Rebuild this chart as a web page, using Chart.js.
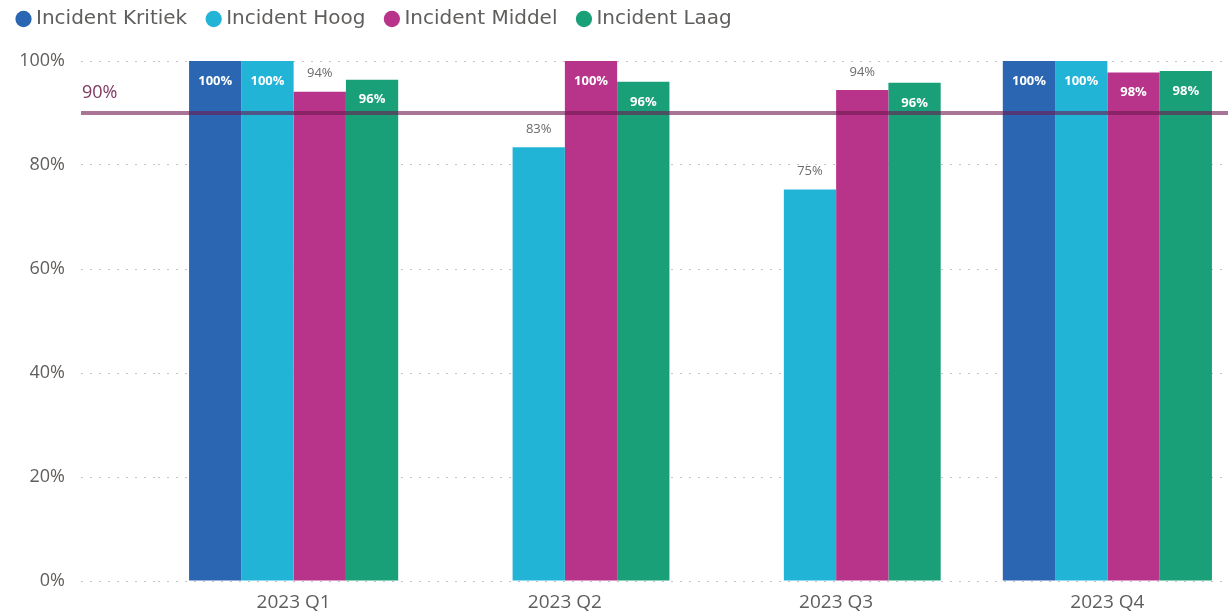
<!DOCTYPE html>
<html>
<head>
<meta charset="utf-8">
<script src="https://cdn.jsdelivr.net/npm/chart.js@4.4.0/dist/chart.umd.min.js"></script>
<style>
  html, body { margin: 0; padding: 0; background: #fff; overflow: hidden; }
</style>
</head>
<body>
<canvas id="chart" width="1244" height="615"></canvas>
<script>
// quarters on the x axis
const quarters = ['2023 Q1', '2023 Q2', '2023 Q3', '2023 Q4'];

// percentage scores per incident priority
const kritiek = [100, null, null, 100];
const hoog = [100, 83.4, 75.3, 100];
const middel = [94.1, 100, 94.4, 97.8];
const laag = [96.4, 96, 95.8, 98.1];

const yTicks = [0, 20, 40, 60, 80, 100];
const target = 90;

const colors = {
    kritiek: '#2a66b1',
    hoog: '#22b4d6',
    middel: '#b8338a',
    laag: '#1aa078',
};

const textGrey = '#605e5c';
const gridGrey = '#c4c4c4';
const tickLen = 77;

Chart.defaults.font.family = "'Open Sans', sans-serif";

// pushes the plot area down below the legend
const legendGap = {
    id: 'legendGap',
    beforeInit(chart) {
        const fit = chart.legend.fit;
        chart.legend.fit = function () {
            fit.call(this);
            this.height += 22;
        };
    }
};

// 90% target line with its label
const targetLine = {
    id: 'targetLine',
    afterDatasetsDraw(chart) {
        const { ctx, chartArea, scales: { y } } = chart;
        const py = y.getPixelForValue(target);
        const x0 = chartArea.left - tickLen;
        ctx.save();
        ctx.strokeStyle = 'rgba(110, 25, 80, 0.6)';
        ctx.lineWidth = 4;
        ctx.beginPath();
        ctx.moveTo(x0, py);
        ctx.lineTo(chart.width, py);
        ctx.stroke();
        ctx.fillStyle = '#803963';
        ctx.font = "18px 'Open Sans', sans-serif";
        ctx.textAlign = 'left';
        ctx.textBaseline = 'middle';
        ctx.fillText(target + '%', x0 + 1, py - 20);
        ctx.restore();
    }
};

// value labels: inside the bar when there is no room above it
const barLabels = {
    id: 'barLabels',
    afterDraw(chart) {
        const { ctx, chartArea } = chart;
        ctx.save();
        ctx.textAlign = 'center';
        ctx.textBaseline = 'middle';
        chart.data.datasets.forEach((ds, i) => {
            const meta = chart.getDatasetMeta(i);
            meta.data.forEach((bar, j) => {
                const v = ds.data[j];
                if (v === null || v === undefined) return;
                const label = Math.round(v) + '%';
                if (bar.y - chartArea.top > 24) {
                    ctx.fillStyle = '#6b6b6b';
                    ctx.font = "13px 'Open Sans', sans-serif";
                    ctx.fillText(label, bar.x, bar.y - 18);
                } else {
                    ctx.fillStyle = '#ffffff';
                    ctx.font = "bold 13px 'Open Sans', sans-serif";
                    ctx.fillText(label, bar.x, bar.y + 20);
                }
            });
        });
        ctx.restore();
    }
};

const ctx = document.getElementById('chart').getContext('2d');

new Chart(ctx, {
    type: 'bar',
    data: {
        labels: quarters,
        datasets: [
            { label: 'Incident Kritiek', data: kritiek, backgroundColor: colors.kritiek },
            { label: 'Incident Hoog', data: hoog, backgroundColor: colors.hoog },
            { label: 'Incident Middel', data: middel, backgroundColor: colors.middel },
            { label: 'Incident Laag', data: laag, backgroundColor: colors.laag },
        ],
    },
    options: {
        responsive: false,
        animation: false,
        categoryPercentage: 0.771,
        barPercentage: 1.0,
        layout: {
            padding: { top: -15, left: -3, right: 1, bottom: 1 }
        },
        plugins: {
            legend: {
                position: 'top',
                align: 'start',
                labels: {
                    usePointStyle: true,
                    pointStyle: 'circle',
                    boxWidth: 5,
                    boxHeight: 11.5,
                    padding: 24,
                    color: textGrey,
                    font: { size: 20, family: "'DejaVu Sans', sans-serif" },
                },
            },
            tooltip: { enabled: false },
        },
        scales: {
            x: {
                afterFit: s => { s.height = 33; },
                grid: { display: false, drawTicks: false },
                border: { display: false },
                ticks: { color: textGrey, font: { size: 19 }, padding: 10 },
            },
            y: {
                min: 0,
                max: 100,
                afterBuildTicks: s => { s.ticks = yTicks.map(v => ({ value: v })); },
                afterFit: s => { s.width = 161; },
                ticks: {
                    color: textGrey,
                    font: { size: 18 },
                    padding: 16,
                    callback: v => v + '%',
                },
                grid: {
                    color: gridGrey,
                    tickColor: gridGrey,
                    tickLength: tickLen,
                    tickBorderDash: [2, 7],
                },
                border: { display: false, dash: [2, 7] },
            },
        },
    },
    plugins: [legendGap, targetLine, barLabels],
});
</script>
</body>
</html>
